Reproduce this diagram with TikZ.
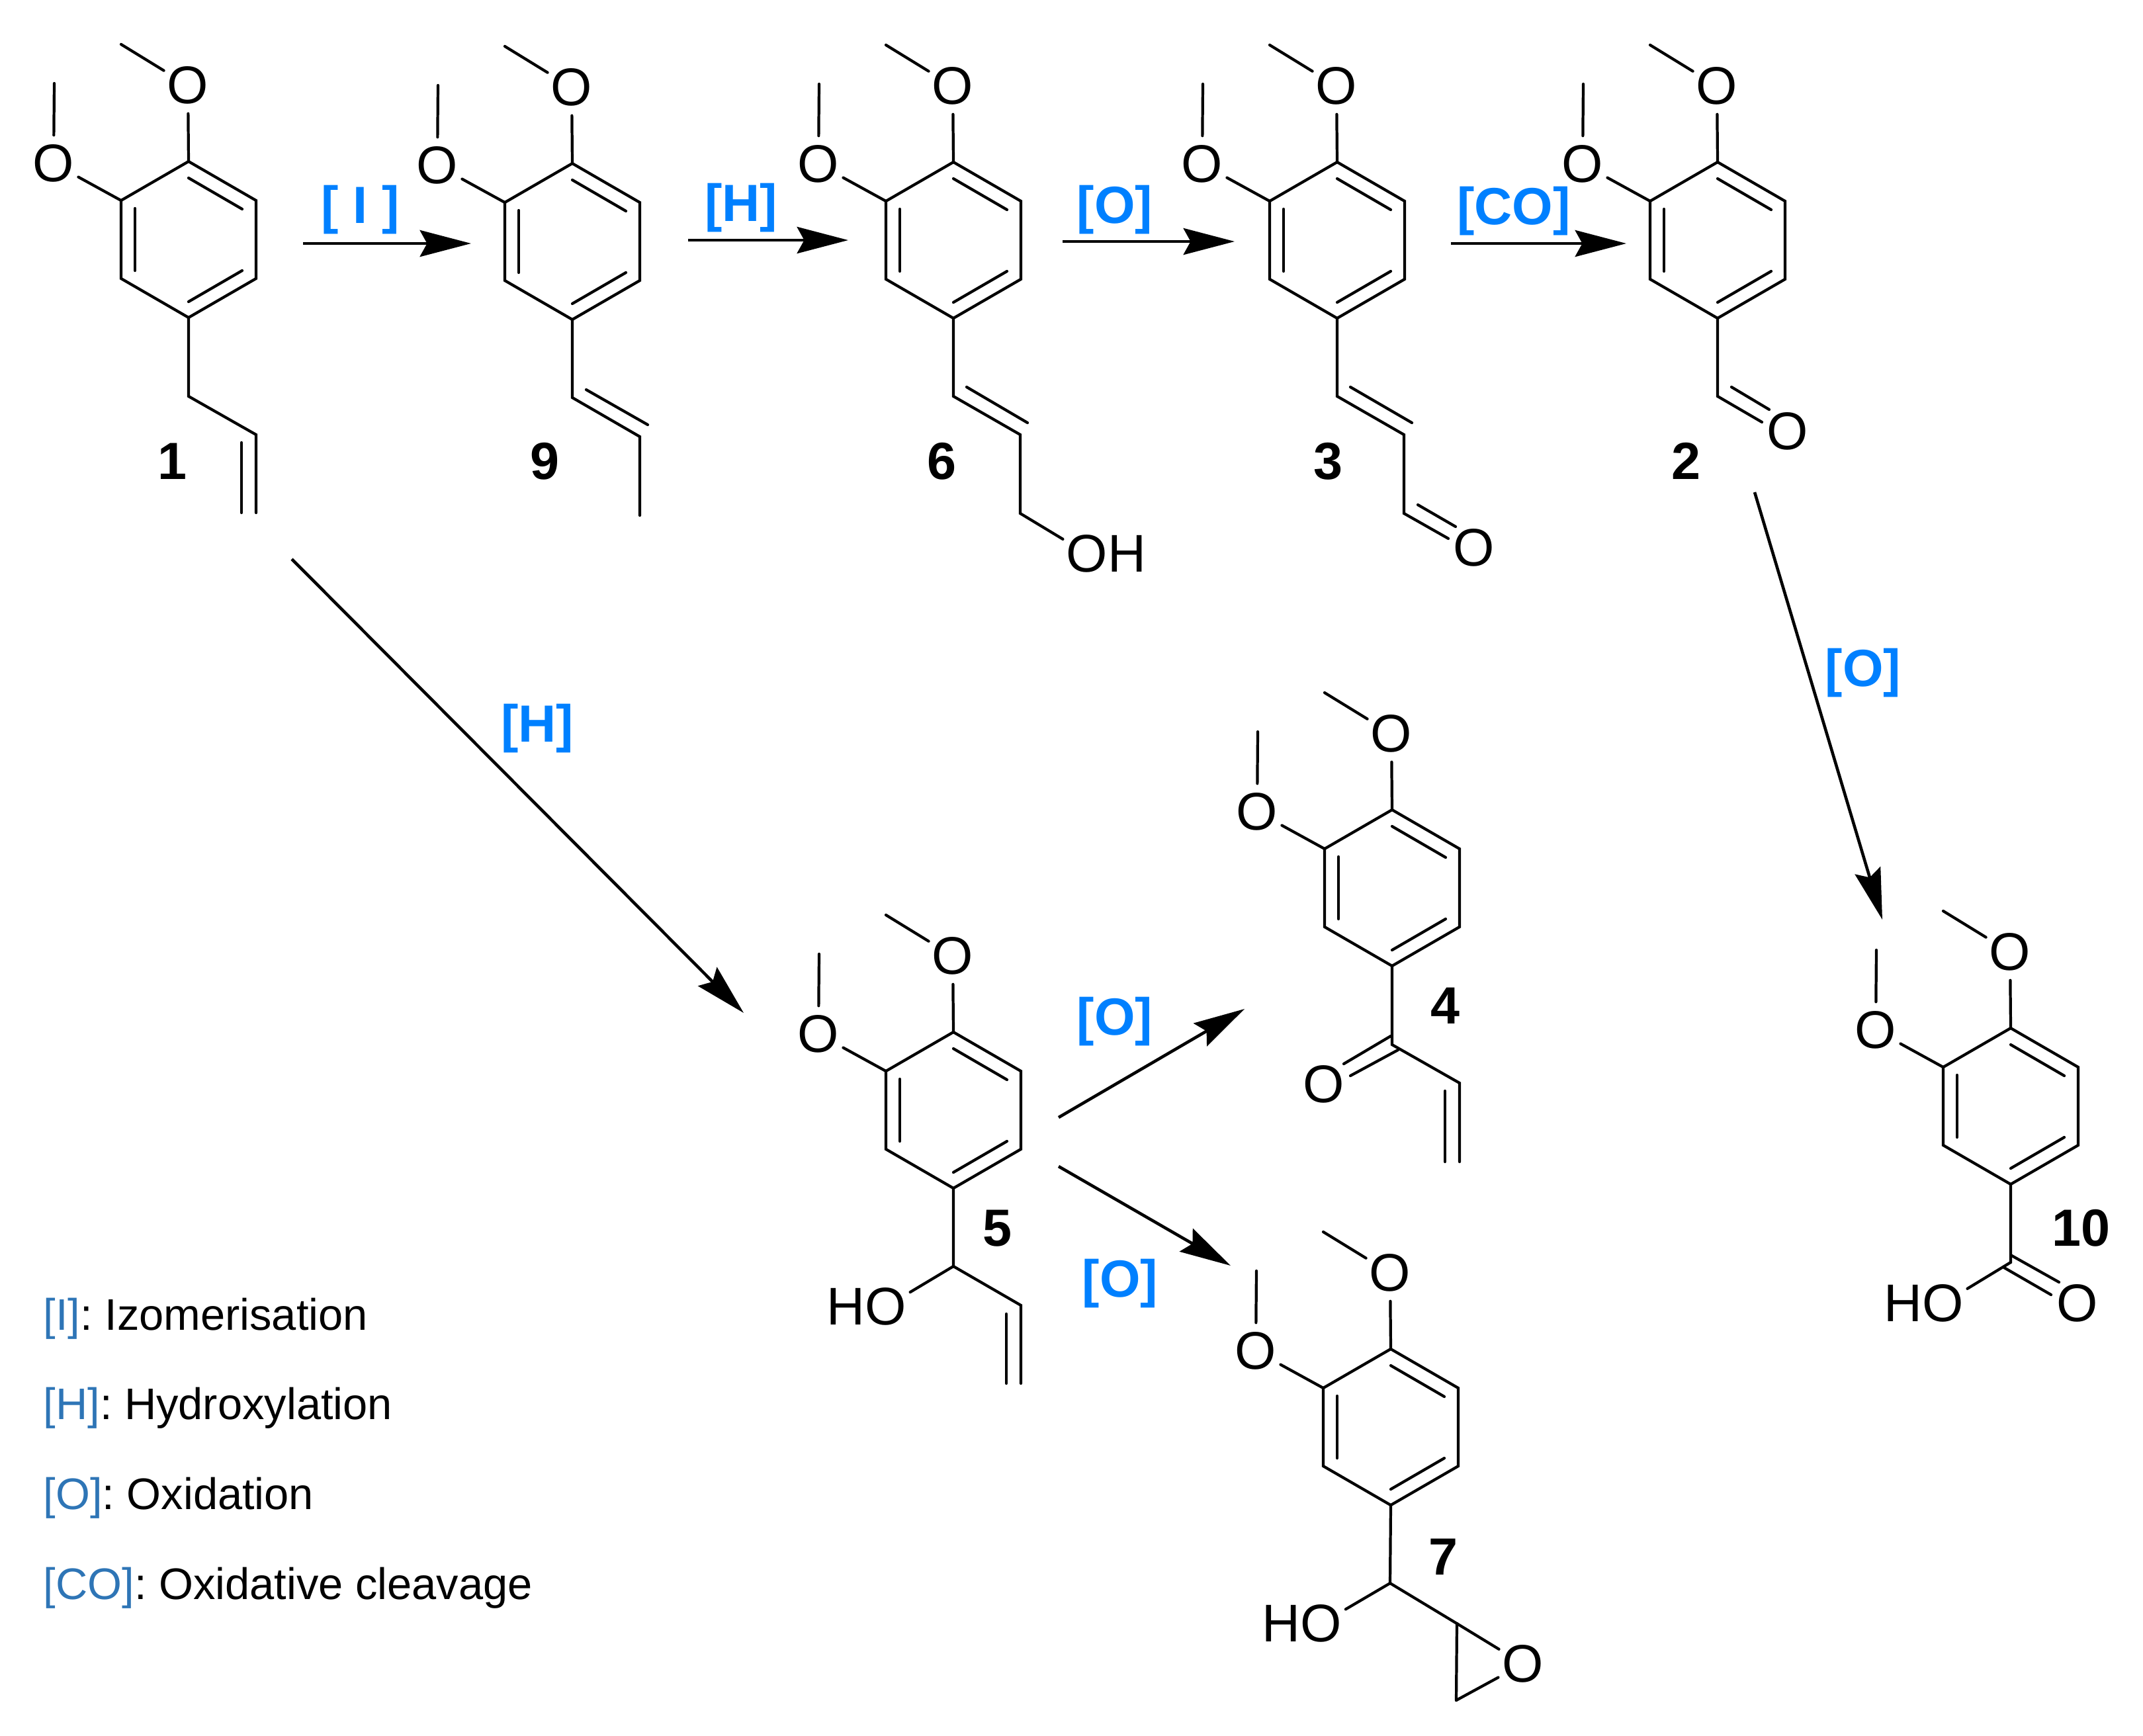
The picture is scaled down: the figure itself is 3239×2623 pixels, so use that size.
\documentclass[tikz,border=0pt]{standalone}
\usepackage{fontspec}
\setmainfont{Liberation Sans}
\usetikzlibrary{arrows.meta}
\definecolor{rxnblue}{RGB}{0,128,255}
\definecolor{keyblue}{RGB}{46,117,182}
\tikzset{
	bond/.style={line width=1.2pt,line cap=round},
	atom/.style={circle,minimum size=0.84cm,inner sep=0pt,font=\fontsize{22.8}{27}\selectfont},
	cmpd/.style={inner sep=0pt,font=\fontsize{22.5}{27}\selectfont\bfseries},
	rxnlabel/.style={inner sep=0pt,text=rxnblue,font=\fontsize{22.5}{27}\selectfont\bfseries},
	rxn/.style={line width=1.3pt,-{Stealth[length=22pt,width=11.4pt,inset=3.1pt]}},
	keyline/.style={anchor=base west,inner sep=0pt,font=\fontsize{19}{23}\selectfont},
}
% the dimethoxyphenyl unit that all ten compounds share
\def\ringunit#1(#2,#3){
	\begin{scope}[shift={(#2,#3)},name prefix=#1]
		\coordinate (T) at (0,-118);
		\coordinate (UR) at (102,-59);
		\coordinate (LR) at (102,59);
		\coordinate (B) at (0,118);
		\coordinate (LL) at (-102,59);
		\coordinate (UL) at (-102,-59);
		\draw[bond] (T) -- (UR) -- (LR) -- (B) -- (LL) -- (UL) -- cycle;
		\coordinate (i1) at (0,-93);
		\coordinate (i2) at (81,-46);
		\coordinate (i3) at (-81,-47);
		\coordinate (i4) at (-81,47);
		\coordinate (i5) at (0,94);
		\coordinate (i6) at (81,47);
		\draw[bond] (i1) -- (i2);
		\draw[bond] (i3) -- (i4);
		\draw[bond] (i5) -- (i6);
		\node[atom] (Ot) at (-1,-233) {O};
		\node[atom] (Ol) at (-204,-115) {O};
		\coordinate (Mt) at (-102,-295);
		\coordinate (Ml) at (-203,-236);
		\draw[bond] (T) -- (Ot);
		\draw[bond] (Ot) -- (Mt);
		\draw[bond] (UL) -- (Ol);
		\draw[bond] (Ol) -- (Ml);
	\end{scope}
}

\begin{document}
\begin{tikzpicture}[x=0.01cm,y=-0.01cm]
	\useasboundingbox (0,0) rectangle (3239,2623);

	%%%%% TOP ROW %%%%%
	\ringunit{a}(285,362)
	\coordinate (a7) at (285,599);
	\coordinate (a8) at (387,657);
	\coordinate (a9) at (387,775);
	\coordinate (a8i) at (365,669);
	\coordinate (a9i) at (365,775);
	\draw[bond] (aB) -- (a7) -- (a8) -- (a9);
	\draw[bond] (a8i) -- (a9i);
	\node[cmpd] (n1) at (260,697) {1};

	\ringunit{b}(865,365)
	\coordinate (b7) at (865,601);
	\coordinate (b8) at (967,660);
	\coordinate (b9) at (967,779);
	\coordinate (b7i) at (886,589);
	\coordinate (b8i) at (979,642);
	\draw[bond] (bB) -- (b7) -- (b8) -- (b9);
	\draw[bond] (b7i) -- (b8i);
	\node[cmpd] (n9) at (823,697) {9};

	\ringunit{c}(1441,363)
	\coordinate (c7) at (1441,599);
	\coordinate (c8) at (1542,657);
	\coordinate (c9) at (1542,776);
	\coordinate (c7i) at (1461,585);
	\coordinate (c8i) at (1553,639);
	\node[atom] (cOH) at (1643,837) {O\rlap{H}};
	\draw[bond] (cB) -- (c7) -- (c8) -- (c9) -- (cOH);
	\draw[bond] (c7i) -- (c8i);
	\node[cmpd] (n6) at (1423,697) {6};

	\ringunit{d}(2021,363)
	\coordinate (d7) at (2021,599);
	\coordinate (d8) at (2122,657);
	\coordinate (d9) at (2122,776);
	\coordinate (d7i) at (2041,585);
	\coordinate (d8i) at (2134,639);
	\coordinate (d10) at (2189,814);
	\coordinate (d9i) at (2143,763);
	\coordinate (d10i) at (2200,796);
	\node[atom] (dO) at (2228,828) {O};
	\draw[bond] (dB) -- (d7) -- (d8) -- (d9) -- (d10);
	\draw[bond] (d7i) -- (d8i);
	\draw[bond] (d9i) -- (d10i);
	\node[cmpd] (n3) at (2007,697) {3};

	\ringunit{e}(2596,363)
	\coordinate (e7) at (2596,599);
	\coordinate (e8) at (2663,638);
	\coordinate (e7i) at (2617,585);
	\coordinate (e8i) at (2674,619);
	\node[atom] (eO) at (2702,652) {O};
	\draw[bond] (eB) -- (e7) -- (e8);
	\draw[bond] (e7i) -- (e8i);
	\node[cmpd] (n2) at (2548,697) {2};

	%%%%% MIDDLE %%%%%
	\ringunit{f}(1441,1678)
	\coordinate (f7) at (1441,1914);
	\coordinate (f8) at (1543,1973);
	\coordinate (f9) at (1543,2091);
	\coordinate (f8i) at (1521,1986);
	\coordinate (f9i) at (1521,2091);
	\node[atom] (fOH) at (1339,1975) {\llap{H}O};
	\draw[bond] (fB) -- (f7) -- (f8) -- (f9);
	\draw[bond] (f7) -- (fOH);
	\draw[bond] (f8i) -- (f9i);
	\node[cmpd] (n5) at (1507,1857) {5};

	\ringunit{g}(2104,1342)
	\coordinate (g7) at (2104,1579);
	\coordinate (g8) at (2206,1637);
	\coordinate (g9) at (2206,1756);
	\coordinate (g8i) at (2184,1649);
	\coordinate (g9i) at (2184,1756);
	\coordinate (g10) at (2102,1566);
	\coordinate (g11) at (2031,1608);
	\coordinate (g12) at (2113,1587);
	\coordinate (g13) at (2041,1626);
	\node[atom] (gO) at (2001,1639) {O};
	\draw[bond] (gB) -- (g7) -- (g8) -- (g9);
	\draw[bond] (g8i) -- (g9i);
	\draw[bond] (g10) -- (g11);
	\draw[bond] (g12) -- (g13);
	\node[cmpd] (n4) at (2184,1520) {4};

	\ringunit{h}(2102,2157)
	\coordinate (h7) at (2101,2393);
	\coordinate (h8) at (2202,2454);
	\coordinate (h9) at (2201,2570);
	\node[atom] (hOH) at (1997,2454) {\llap{H}O};
	\node[atom] (hO) at (2302,2515) {O};
	\draw[bond] (hB) -- (h7) -- (h8) -- (h9);
	\draw[bond] (h7) -- (hOH);
	\draw[bond] (h8) -- (hO);
	\draw[bond] (h9) -- (hO);
	\node[cmpd] (n7) at (2181,2353) {7};

	\ringunit{k}(3039,1672)
	\coordinate (k7) at (3039,1908);
	\coordinate (k8) at (3039,1897);
	\coordinate (k9) at (3112,1938);
	\coordinate (k10) at (3029,1916);
	\coordinate (k11) at (3100,1957);
	\node[atom] (kOH) at (2937,1970) {\llap{H}O};
	\node[atom] (kO) at (3140,1970) {O};
	\draw[bond] (kB) -- (k7) -- (kOH);
	\draw[bond] (k8) -- (k9);
	\draw[bond] (k10) -- (k11);
	\node[cmpd] (n10) at (3145,1856) {10};

	%%%%% ARROWS %%%%%
	\coordinate (s1) at (458,368);
	\coordinate (t1) at (712,368);
	\coordinate (s2) at (1040,363);
	\coordinate (t2) at (1282,363);
	\coordinate (s3) at (1606,365);
	\coordinate (t3) at (1866,365);
	\coordinate (s4) at (2193,368);
	\coordinate (t4) at (2458,368);
	\coordinate (s5) at (2652,744);
	\coordinate (t5) at (2845,1390);
	\coordinate (s6) at (441,845);
	\coordinate (t6) at (1124,1531);
	\coordinate (s7) at (1600,1689);
	\coordinate (t7) at (1881,1525);
	\coordinate (s8) at (1600,1763);
	\coordinate (t8) at (1860,1913);
	\foreach \i in {1,...,8}
		\draw[rxn] (s\i) -- (t\i);

	\node[rxnlabel] (r1) at (545,317) {[ I ]};
	\node[rxnlabel] (r2) at (1120,314) {[H]};
	\node[rxnlabel] (r3) at (1685,317) {[O]};
	\node[rxnlabel] (r4) at (2288,319) {[CO]};
	\node[rxnlabel] (r5) at (2816,1017) {[O]};
	\node[rxnlabel] (r6) at (812,1101) {[H]};
	\node[rxnlabel] (r7) at (1685,1544) {[O]};
	\node[rxnlabel] (r8) at (1693,1940) {[O]};

	%%%%% KEY %%%%%
	\node[keyline] (key1) at (65,2010) {\textcolor{keyblue}{[I]}: Izomerisation};
	\node[keyline] (key2) at (65,2145) {\textcolor{keyblue}{[H]}: Hydroxylation};
	\node[keyline] (key3) at (65,2281) {\textcolor{keyblue}{[O]}: Oxidation};
	\node[keyline] (key4) at (65,2417) {\textcolor{keyblue}{[CO]}: Oxidative cleavage};
\end{tikzpicture}
\end{document}
